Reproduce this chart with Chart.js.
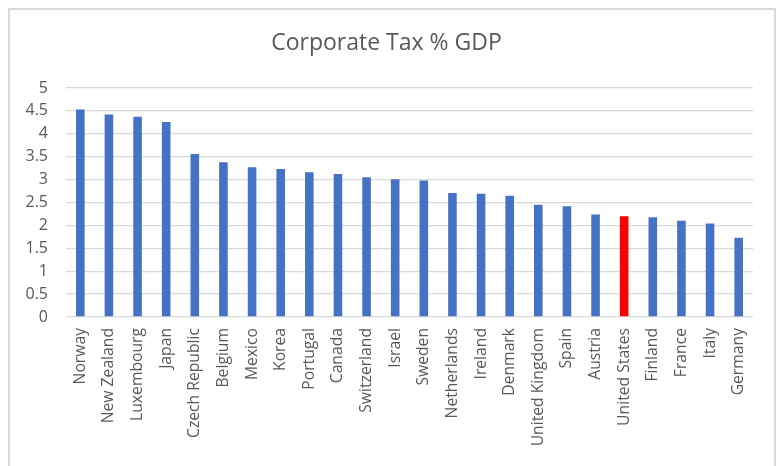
<!DOCTYPE html>
<html>
<head>
<meta charset="utf-8">
<script src="https://cdn.jsdelivr.net/npm/chart.js@4.4.0/dist/chart.umd.min.js"></script>
<style>
  body { margin: 0; background: #fff; }
  #frame {
    position: absolute; left: 8px; top: 8px;
    width: 764px; height: 480px;
    border: 2px solid #d9d9d9;
  }
  #wrap { position: absolute; left: 0; top: 0; width: 779px; height: 466px; }
</style>
</head>
<body>
<div id="frame"></div>
<div id="wrap"><canvas id="chart" width="779" height="466"></canvas></div>
<script>
const countries = [
  "Norway", "New Zealand", "Luxembourg", "Japan", "Czech Republic", "Belgium",
  "Mexico", "Korea", "Portugal", "Canada", "Switzerland", "Israel", "Sweden",
  "Netherlands", "Ireland", "Denmark", "United Kingdom", "Spain", "Austria",
  "United States", "Finland", "France", "Italy", "Germany"
];
const taxPctGdp = [
  4.53, 4.42, 4.37, 4.26, 3.56, 3.38, 3.27, 3.23, 3.16, 3.12, 3.05, 3.01, 2.98,
  2.71, 2.69, 2.65, 2.45, 2.42, 2.24, 2.20, 2.18, 2.10, 2.04, 1.73
];
const yTicks = [0, 0.5, 1, 1.5, 2, 2.5, 3, 3.5, 4, 4.5, 5];
const highlight = "United States";

const barColors = countries.map(c => c === highlight ? "#ff0000" : "#4472c4");
const textColor = "#595959";

const ctx = document.getElementById("chart").getContext("2d");
new Chart(ctx, {
  type: "bar",
  data: {
    labels: countries,
    datasets: [{
      label: "Corporate Tax % GDP",
      data: taxPctGdp,
      backgroundColor: barColors,
      borderWidth: 0,
      barPercentage: 0.3,
      categoryPercentage: 1,
    }],
  },
  options: {
    responsive: false,
    animation: false,
    layout: { padding: { left: 20, right: 26, top: 0, bottom: 0 } },
    plugins: {
      legend: { display: false },
      tooltip: { enabled: false },
      title: {
        display: true,
        text: "Corporate Tax % GDP",
        color: textColor,
        font: { family: "Open Sans", size: 23, weight: "normal" },
        padding: { top: 30, bottom: 30.4 },
      },
    },
    scales: {
      x: {
        grid: { display: false },
        border: { display: false },
        ticks: {
          color: textColor,
          font: { family: "Open Sans", size: 15.7 },
          minRotation: 90,
          maxRotation: 90,
          autoSkip: false,
          padding: 3,
        },
        afterFit: (scale) => { scale.height = 149; },
      },
      y: {
        min: 0,
        max: 5,
        afterBuildTicks: (scale) => { scale.ticks = yTicks.map(v => ({ value: v })); },
        grid: { color: "#d9d9d9", lineWidth: 1.3, drawTicks: false },
        border: { display: false },
        ticks: {
          color: textColor,
          font: { family: "Open Sans", size: 16 },
          padding: 18,
          callback: (v) => String(v),
        },
        afterFit: (scale) => { scale.width = 46; },
      },
    },
  },
});
</script>
</body>
</html>
